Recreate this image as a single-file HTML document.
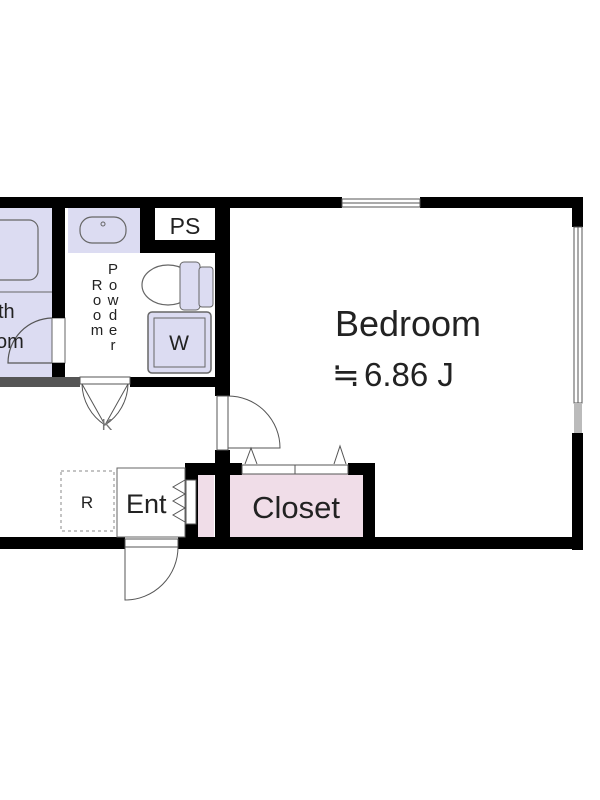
<!DOCTYPE html>
<html><head><meta charset="utf-8"><style>
body{margin:0;width:600px;height:800px;background:#fff;overflow:hidden}
svg{display:block}
text{font-family:"Liberation Sans","DejaVu Sans",sans-serif;fill:#222}
</style></head><body>
<svg width="600" height="800" viewBox="0 0 600 800">
<!-- fills -->
<rect x="0" y="208" width="52" height="175" fill="#dcdcf2"/>
<rect x="68" y="208" width="72" height="45" fill="#dcdcf2"/>
<rect x="230" y="473" width="133" height="64" fill="#f0dde8"/>
<rect x="198" y="475" width="16" height="62" fill="#f0dde8"/>
<!-- bath -->
<rect x="-10" y="220" width="48" height="60" rx="9" fill="none" stroke="#666" stroke-width="1.2"/>
<line x1="0" y1="292" x2="52" y2="292" stroke="#666" stroke-width="1"/>
<path d="M52,318 A45,45 0 0 0 8,363 L52,363" fill="none" stroke="#555" stroke-width="1.2"/>
<rect x="52" y="318" width="13" height="45" fill="#fff" stroke="#666" stroke-width="1"/>
<text x="-2" y="318" font-size="20">th</text>
<text x="-4" y="348" font-size="20">om</text>
<!-- sink -->
<rect x="80" y="217" width="46" height="26" rx="12" fill="none" stroke="#666" stroke-width="1.2"/>
<circle cx="103" cy="224" r="2" fill="none" stroke="#666"/>
<!-- toilet -->
<ellipse cx="168" cy="285" rx="26" ry="20" fill="none" stroke="#666" stroke-width="1.2"/>
<rect x="180" y="262" width="20" height="48" rx="4" fill="#dcdcf2" stroke="#666"/>
<rect x="199" y="267" width="14" height="40" rx="3" fill="#dcdcf2" stroke="#666"/>
<!-- washer -->
<rect x="148" y="312" width="63" height="61" rx="4" fill="#dcdcf2" stroke="#666" stroke-width="1.5"/>
<rect x="154" y="318" width="51" height="49" fill="none" stroke="#666"/>
<text x="179" y="350" font-size="21" text-anchor="middle">W</text>
<!-- vertical text -->
<g font-size="15" text-anchor="middle">
<text x="113" y="274">P</text><text x="113" y="290">o</text><text x="113" y="305">w</text><text x="113" y="320">d</text><text x="113" y="335">e</text><text x="113" y="350">r</text>
<text x="97" y="290">R</text><text x="97" y="305">o</text><text x="97" y="320">o</text><text x="97" y="335">m</text>
</g>
<!-- walls -->
<g fill="#000">
<rect x="0" y="197" width="342" height="11"/>
<rect x="420" y="197" width="163" height="11"/>
<rect x="572" y="197" width="11" height="30"/>
<rect x="572" y="433" width="11" height="117"/>
<rect x="0" y="537" width="125" height="12"/>
<rect x="178" y="537" width="405" height="12"/>
<rect x="52" y="208" width="13" height="110"/>
<rect x="52" y="363" width="13" height="20"/>
<rect x="140" y="208" width="15" height="45"/>
<rect x="140" y="240" width="90" height="13"/>
<rect x="215" y="208" width="15" height="188"/>
<rect x="215" y="450" width="15" height="90"/>
<rect x="185" y="463" width="57" height="12"/>
<rect x="185" y="463" width="13" height="76"/>
<rect x="348" y="463" width="27" height="12"/>
<rect x="363" y="463" width="12" height="76"/>
<rect x="130" y="377" width="85" height="10"/>
<rect x="0" y="377" width="80" height="10" fill="#555"/>
</g>
<rect x="155" y="208" width="60" height="32" fill="#fff"/>
<text x="185" y="234" font-size="23" text-anchor="middle">PS</text>
<!-- windows -->
<rect x="342" y="199" width="78" height="8" fill="#fff" stroke="#555" stroke-width="1"/>
<line x1="342" y1="203" x2="420" y2="203" stroke="#555"/>
<rect x="574" y="227" width="8" height="176" fill="#fff" stroke="#555" stroke-width="1"/>
<line x1="578" y1="227" x2="578" y2="403" stroke="#555"/>
<rect x="574" y="403" width="8" height="30" fill="#bbb"/>
<!-- powder door -->
<rect x="80" y="377" width="50" height="7" fill="#fff" stroke="#555"/>
<path d="M82,384 L105,425 L128,384" fill="none" stroke="#555"/>
<path d="M82,384 A50,50 0 0 0 105,425 M128,384 A50,50 0 0 1 105,425" fill="none" stroke="#555"/>
<text x="107" y="430" font-size="16" text-anchor="middle" style="fill:#777">K</text>
<!-- bedroom door -->
<rect x="217" y="396" width="11" height="54" fill="#fff" stroke="#555"/>
<path d="M228,396 A52,52 0 0 1 280,448 L228,448" fill="none" stroke="#555"/>
<!-- closet doors -->
<rect x="242" y="465" width="106" height="9" fill="#fff" stroke="#555"/>
<line x1="295" y1="465" x2="295" y2="474" stroke="#555"/>
<path d="M245,464 L251,448 L257,464 M334,464 L340,446 L346,464" fill="none" stroke="#555"/>
<!-- entrance -->
<rect x="117" y="468" width="68" height="69" fill="#fff" stroke="#666"/>
<rect x="61" y="471" width="53" height="60" fill="none" stroke="#888" stroke-dasharray="3,3"/>
<text x="87" y="508" font-size="17" text-anchor="middle">R</text>
<text x="126" y="513" font-size="27">Ent</text>
<path d="M185,480 L173,487 L185,494 L173,501 L185,508 L173,515 L185,522" fill="none" stroke="#555"/>
<rect x="186" y="480" width="10" height="44" fill="#fff" stroke="#555"/>
<!-- entry door -->
<rect x="125" y="539" width="53" height="8" fill="#fff" stroke="#555"/>
<path d="M125,547 L125,600 A53,53 0 0 0 178,547" fill="none" stroke="#555"/>
<!-- labels -->
<text x="408" y="336" font-size="36" text-anchor="middle">Bedroom</text>
<text x="332" y="386" font-size="33" style="font-family:'DejaVu Sans',sans-serif" font-size="28">≒</text>
<text x="364" y="386" font-size="33">6.86 J</text>
<text x="296" y="518" font-size="31" text-anchor="middle">Closet</text>
</svg>
</body></html>
